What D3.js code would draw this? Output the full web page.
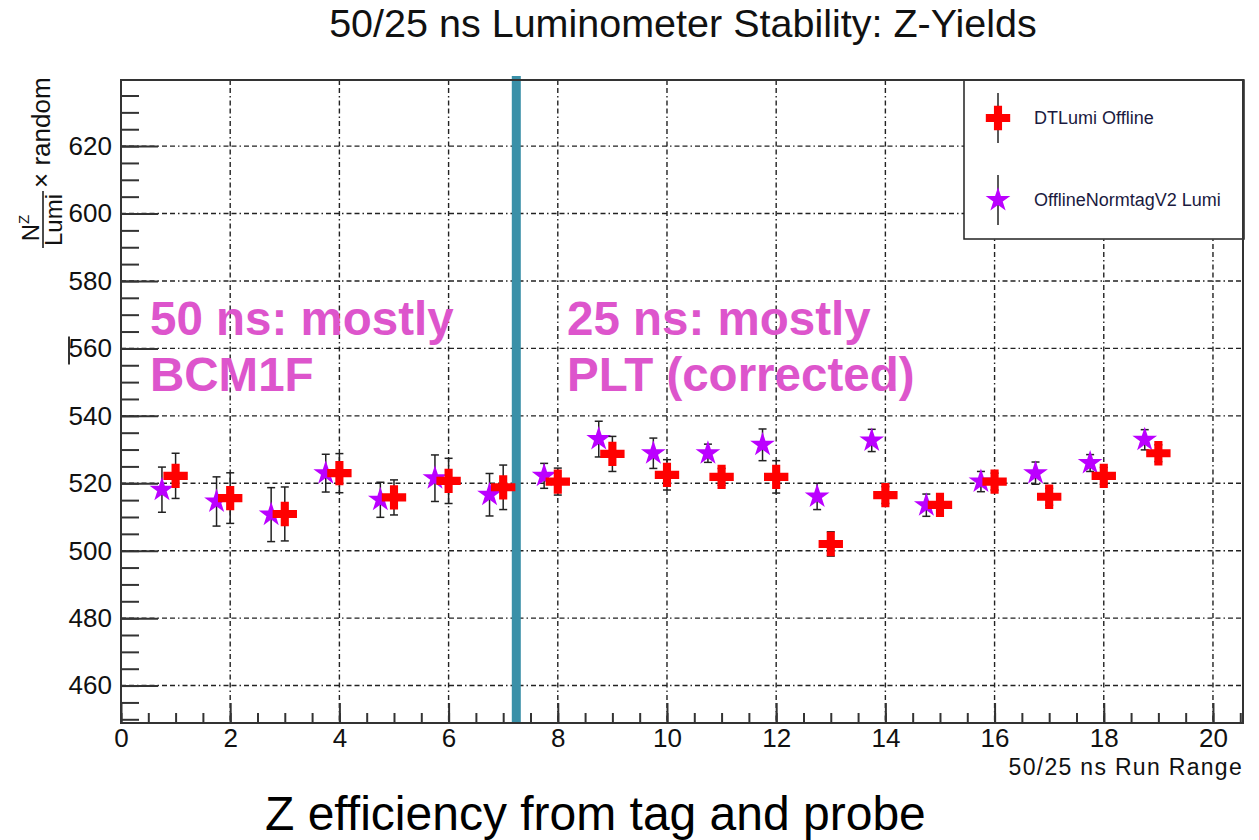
<!DOCTYPE html>
<html>
<head>
<meta charset="utf-8">
<script src="https://cdn.jsdelivr.net/npm/d3@7"></script>
<style>
  body { margin: 0; background: #fff; }
  text { font-family: "Liberation Sans", Arial, Helvetica, sans-serif; }
</style>
</head>
<body>
<div id="chart"></div>
<script>
// run numbers and yields
let runs = [1, 2, 3, 4, 5, 6, 7, 8, 9, 10, 11, 12, 13, 14, 15, 16, 17, 18, 19];
let dtLumi = [522.2, 515.6, 510.9, 523.0, 515.8, 520.7, 518.8, 520.5, 528.7, 522.5,
              521.9, 521.9, 502.0, 516.5, 513.6, 520.5, 516.0, 522.2, 528.9];
let dtLumiErr = [6.7, 7.5, 8.0, 5.8, 5.2, 6.7, 6.6, 4.0, 5.2, 4.5,
                 2.5, 4.8, 3.6, 2.5, 2.5, 2.5, 2.5, 2.5, 2.5];

let normRuns = [0.75, 1.75, 2.75, 3.75, 4.75, 5.75, 6.75, 7.75, 8.75, 9.75,
                10.75, 11.75, 12.75, 13.75, 14.75, 15.75, 16.75, 17.75, 18.75];
let normtag = [518.1, 514.6, 510.7, 523.0, 515.1, 521.5, 516.6, 522.2, 533.1, 528.9,
               528.9, 531.4, 516.1, 532.7, 513.5, 520.5, 523.0, 526.0, 532.9];
let normtagErr = [6.7, 7.3, 8.0, 5.6, 5.2, 6.9, 6.3, 3.7, 5.3, 4.5,
                  2.7, 4.7, 3.9, 3.3, 3.3, 3.0, 3.3, 2.5, 3.0];

let xTicks = [0, 2, 4, 6, 8, 10, 12, 14, 16, 18, 20];
let yTicks = [460, 480, 500, 520, 540, 560, 580, 600, 620];
let splitRun = 7.24;   // 50 ns / 25 ns boundary

let legendNames = ["DTLumi Offline", "OfflineNormtagV2 Lumi"];

let width = 1259, height = 840;
let frame = {left: 121, right: 1243, top: 80, bottom: 723};

let svg = d3.select("#chart").append("svg")
    .attr("width", width)
    .attr("height", height);

let x = d3.scaleLinear().domain([0, 20.55]).range([frame.left, frame.right]);
let y = d3.scaleLinear().domain([448.9, 639.6]).range([frame.bottom, frame.top]);

// title
svg.append("text")
    .attr("x", 683).attr("y", 37)
    .attr("text-anchor", "middle")
    .style("font-size", "39.5px")
    .attr("fill", "#111")
    .text("50/25 ns Luminometer Stability: Z-Yields");

// grid
let grid = svg.append("g").attr("stroke", "#222").attr("stroke-width", 1.4)
    .attr("stroke-dasharray", "5,3,5,3,1.5,3");
grid.selectAll(".gx").data(xTicks.filter(d => d > 0)).enter().append("line")
    .attr("x1", d => x(d)).attr("x2", d => x(d))
    .attr("y1", frame.top).attr("y2", frame.bottom);
grid.selectAll(".gy").data(yTicks).enter().append("line")
    .attr("y1", d => y(d)).attr("y2", d => y(d))
    .attr("x1", frame.left).attr("x2", frame.right);

// axes, ticks inside the frame like ROOT
let yMinor = d3.range(450, 640, 5);
let xMinor = d3.range(0, 20.51, 0.5);

svg.append("g").attr("transform", "translate(" + frame.left + ",0)")
    .call(d3.axisLeft(y).tickValues(yMinor).tickSize(-18).tickFormat(""))
    .call(g => g.select(".domain").remove());
let yAxis = svg.append("g").attr("transform", "translate(" + frame.left + ",0)")
    .call(d3.axisLeft(y).tickValues(yTicks).tickSizeInner(-37).tickSizeOuter(0).tickPadding(9));
yAxis.select(".domain").remove();

svg.append("g").attr("transform", "translate(0," + frame.bottom + ")")
    .call(d3.axisBottom(x).tickValues(xMinor).tickSize(-10).tickFormat(""))
    .call(g => g.select(".domain").remove());
let xAxis = svg.append("g").attr("transform", "translate(0," + frame.bottom + ")")
    .call(d3.axisBottom(x).tickValues(xTicks).tickSizeInner(-20).tickSizeOuter(0).tickPadding(6));
xAxis.select(".domain").remove();

svg.selectAll(".tick line").attr("stroke", "#333").attr("stroke-width", 2);
svg.selectAll(".tick text").style("font-size", "26px").attr("fill", "#111");

// stray mark left of the 560 label
svg.append("line")
    .attr("x1", 69).attr("x2", 69)
    .attr("y1", y(560) - 12).attr("y2", y(560) + 16)
    .attr("stroke", "#333").attr("stroke-width", 2);

// boundary line
svg.append("rect")
    .attr("x", x(splitRun) - 4.5).attr("width", 9)
    .attr("y", frame.top - 4).attr("height", frame.bottom - frame.top + 4)
    .attr("fill", "#3a90a8");

// annotations
let annot = [
    {x: 150, lines: ["50 ns: mostly", "BCM1F"]},
    {x: 567, lines: ["25 ns: mostly", "PLT (corrected)"]}
];
annot.forEach(a => {
    a.lines.forEach((t, i) => {
        svg.append("text")
            .attr("x", a.x).attr("y", 335 + i * 56)
            .style("font-size", "47.5px").style("font-weight", "bold")
            .attr("fill", "#dd55cc")
            .text(t);
    });
});

// error bars + markers
function drawSeries(xs, ys, es, symbol, size, color) {
    let g = svg.append("g");
    let eb = g.selectAll(".err").data(xs).enter().append("g")
        .attr("stroke", "#222").attr("stroke-width", 1.5);
    eb.append("line")
        .attr("x1", d => x(d)).attr("x2", d => x(d))
        .attr("y1", (d, i) => y(ys[i] + es[i])).attr("y2", (d, i) => y(ys[i] - es[i]));
    eb.append("line")
        .attr("x1", d => x(d) - 4).attr("x2", d => x(d) + 4)
        .attr("y1", (d, i) => y(ys[i] + es[i])).attr("y2", (d, i) => y(ys[i] + es[i]));
    eb.append("line")
        .attr("x1", d => x(d) - 4).attr("x2", d => x(d) + 4)
        .attr("y1", (d, i) => y(ys[i] - es[i])).attr("y2", (d, i) => y(ys[i] - es[i]));
    g.selectAll(".mk").data(xs).enter().append("path")
        .attr("d", d3.symbol().type(symbol).size(size))
        .attr("transform", (d, i) => "translate(" + x(d) + "," + y(ys[i]) + ")")
        .attr("fill", color);
}
drawSeries(normRuns, normtag, normtagErr, d3.symbolStar, 190, "#bb00ff");
drawSeries(runs, dtLumi, dtLumiErr, d3.symbolCross, 330, "#ff0000");

// legend
let leg = svg.append("g");
leg.append("rect")
    .attr("x", 964).attr("y", frame.top)
    .attr("width", frame.right - 964 + 1).attr("height", 159)
    .attr("fill", "#fff").attr("stroke", "#222").attr("stroke-width", 1.5);
let legItems = [
    {name: legendNames[0], sym: d3.symbolCross, size: 330, color: "#ff0000", cy: 118},
    {name: legendNames[1], sym: d3.symbolStar, size: 190, color: "#bb00ff", cy: 200}
];
legItems.forEach(it => {
    leg.append("line")
        .attr("x1", 998).attr("x2", 998)
        .attr("y1", it.cy - 25).attr("y2", it.cy + 25)
        .attr("stroke", "#222").attr("stroke-width", 1.5);
    leg.append("path")
        .attr("d", d3.symbol().type(it.sym).size(it.size))
        .attr("transform", "translate(998," + it.cy + ")")
        .attr("fill", it.color);
    leg.append("text")
        .attr("x", 1034).attr("y", it.cy + 6)
        .style("font-size", "18px").attr("fill", "#1a1a40")
        .text(it.name);
});

// x axis title
svg.append("text")
    .attr("x", frame.right).attr("y", 775)
    .attr("text-anchor", "end")
    .style("font-size", "23px").style("letter-spacing", "1.3px").attr("fill", "#111")
    .text("50/25 ns Run Range");

// y axis title: N^Z / Lumi x random
let yl = svg.append("g").attr("transform", "translate(43,248) rotate(-90)");
yl.append("line")
    .attr("x1", 0).attr("x2", 57).attr("y1", 0).attr("y2", 0)
    .attr("stroke", "#111").attr("stroke-width", 1.5);
let num = yl.append("text")
    .attr("x", 20).attr("y", -4)
    .attr("text-anchor", "middle")
    .style("font-size", "24px").attr("fill", "#111");
num.append("tspan").text("N");
num.append("tspan").attr("dy", -10).style("font-size", "15px").text("Z");
yl.append("text")
    .attr("x", 28).attr("y", 19)
    .attr("text-anchor", "middle")
    .style("font-size", "24px").attr("fill", "#111")
    .text("Lumi");
yl.append("text")
    .attr("x", 60).attr("y", 7)
    .style("font-size", "26px").attr("fill", "#111")
    .text("\u00d7 random");

// frame
svg.append("rect")
    .attr("x", frame.left).attr("y", frame.top)
    .attr("width", frame.right - frame.left).attr("height", frame.bottom - frame.top)
    .attr("fill", "none").attr("stroke", "#333").attr("stroke-width", 2);

// slide caption
svg.append("text")
    .attr("x", 265).attr("y", 830)
    .style("font-size", "48px").attr("fill", "#000")
    .text("Z efficiency from tag and probe");
</script>
</body>
</html>
